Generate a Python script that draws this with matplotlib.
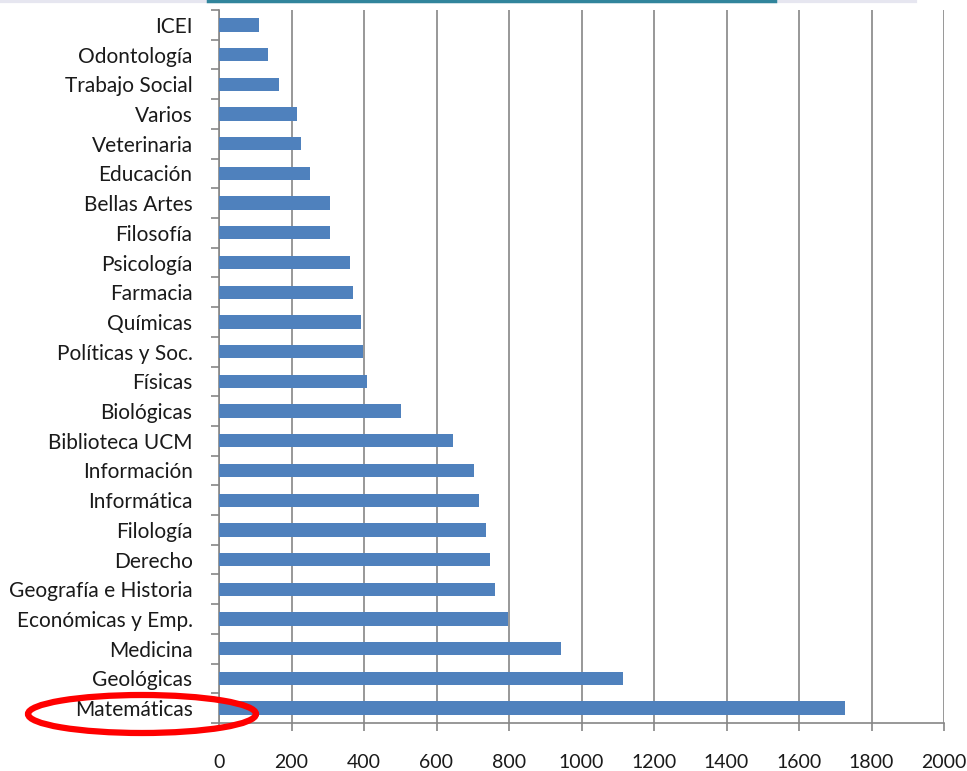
import matplotlib
matplotlib.use("Agg")
import matplotlib.pyplot as plt
from matplotlib.patches import Ellipse
from matplotlib.lines import Line2D
import numpy as np

categories = ["ICEI", "Odontología", "Trabajo Social", "Varios", "Veterinaria",
              "Educación", "Bellas Artes", "Filosofía", "Psicología", "Farmacia",
              "Químicas", "Políticas y Soc.", "Físicas", "Biológicas",
              "Biblioteca UCM", "Información", "Informática", "Filología",
              "Derecho", "Geografía e Historia", "Económicas y Emp.", "Medicina",
              "Geológicas", "Matemáticas"]
values = [111, 136, 165, 216, 226, 250, 307, 307, 360, 370, 393, 397, 408, 502,
          646, 703, 717, 737, 748, 761, 797, 943, 1115, 1727]
xticks = [0, 200, 400, 600, 800, 1000, 1200, 1400, 1600, 1800, 2000]

plt.rcParams['font.family'] = ['Lato', 'DejaVu Sans']

fig = plt.figure(figsize=(9.67, 7.71), dpi=100)
ax = fig.add_axes([219/967, 1-723/771, (944-219)/967, (723-10)/771])

y = np.arange(len(categories))
ax.barh(y, values, height=0.45, color="#4F81BD", zorder=3)
ax.set_ylim(len(categories)-0.5, -0.5)
ax.set_xlim(0, 2000)
ax.set_xticks(xticks)
ax.set_xticklabels([str(t) for t in xticks], fontsize=14, color="#1a1a1a")
ax.set_yticks(y)
ax.set_yticklabels(categories, fontsize=15, color="#1a1a1a")
ax.set_yticks(np.arange(-0.5, len(categories), 1), minor=True)
ax.tick_params(axis='y', which='major', length=0, pad=19)
ax.tick_params(axis='y', which='minor', length=6, width=1.2, color="#868686", direction='out')
ax.tick_params(axis='x', which='major', length=6, width=1.2, color="#868686", pad=16)
ax.grid(axis='x', color="#868686", linewidth=1.2, zorder=0)
for s in ['top', 'right']:
    ax.spines[s].set_visible(False)
for s in ['left', 'bottom']:
    ax.spines[s].set_color("#868686")
    ax.spines[s].set_linewidth(1.2)

# red highlight ellipse around "Matemáticas"
ell = Ellipse((142/967, 1-714/771), 228/967, 38/771, transform=fig.transFigure,
              fill=False, edgecolor="red", linewidth=4.5, clip_on=False)
fig.add_artist(ell)

# cut-off decoration at top
fig.add_artist(Line2D([0, 915/967], [1-1/771, 1-1/771], transform=fig.transFigure,
                      color="#E6E6F0", linewidth=3))
fig.add_artist(Line2D([208/967, 775/967], [1-1/771, 1-1/771], transform=fig.transFigure,
                      color="#31859C", linewidth=2.5))

fig.savefig("out.png", dpi=100)
